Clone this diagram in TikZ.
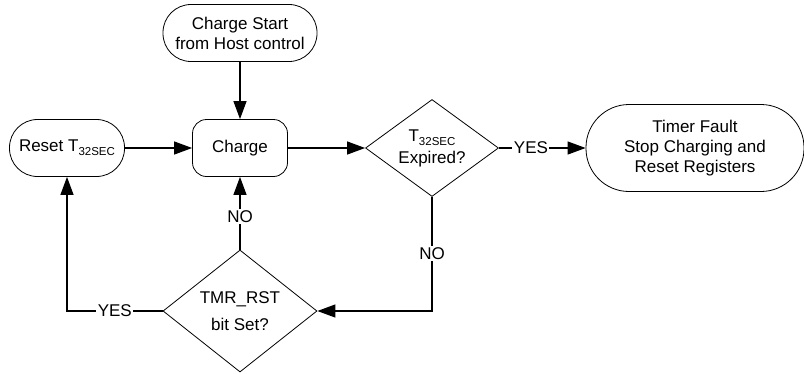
\documentclass[tikz,border=0pt]{standalone}
\usepackage{fontspec}
\setmainfont{Liberation Sans}
\usetikzlibrary{arrows.meta, positioning, shapes.geometric}
\newcommand{\Tsec}{T\raisebox{-4pt}{\fontsize{11.5}{12}\selectfont 32SEC}}
\tikzset{
  term/.style={draw, line width=0.8pt, rectangle, align=center, inner sep=2pt,
               minimum height=57pt},
  decision/.style={draw, line width=0.8pt, diamond, align=center, inner sep=0pt},
  flow/.style={-{Triangle[length=18pt, width=13pt]}, line width=1.2pt},
  tag/.style={fill=white, inner sep=1.5pt},
}

\begin{document}
\begin{tikzpicture}[x=1pt, y=-1pt, font=\fontsize{17}{20}\selectfont]
  \useasboundingbox (0,0) rectangle (804,373);

  % ---- Nodes ----
  \node[term, rounded corners=28pt, minimum width=154pt] (start) at (240,33)
    {Charge Start\\from Host control};
  \node[term, rounded corners=14pt, minimum width=95pt] (charge) at (240,148)
    {Charge};
  \node[term, rounded corners=28pt, minimum width=115pt] (reset) at (67,148)
    {Reset \Tsec};
  \node[decision, aspect=1.37, minimum width=133pt, minimum height=97pt] (expired) at (432,148)
    {\Tsec\\[2pt]Expired?};
  \node[term, rounded corners=43pt, minimum width=218pt, minimum height=87pt] (fault) at (695,148)
    {Timer Fault\\Stop Charging and\\Reset Registers};
  \node[decision, aspect=1.26, minimum width=154pt, minimum height=122pt] (tmrrst) at (240,311)
    {TMR\_RST\\[7pt]bit Set?};

  % ---- Edges ----
  \draw[flow] (start) -- (charge);
  \draw[flow] (reset) -- (charge);
  \draw[flow] (charge) -- (expired);
  \draw[flow] (expired) -- node[tag, pos=0.37]{YES} (fault);
  \draw[flow] (expired.south) |- node[tag, pos=0.25]{NO} (tmrrst.east);
  \draw[flow] (tmrrst.north) -- node[tag, pos=0.45]{NO} (charge.south);
  \draw[flow] (tmrrst.west) -| node[tag, pos=0.25]{YES} (reset.south);
\end{tikzpicture}
\end{document}
